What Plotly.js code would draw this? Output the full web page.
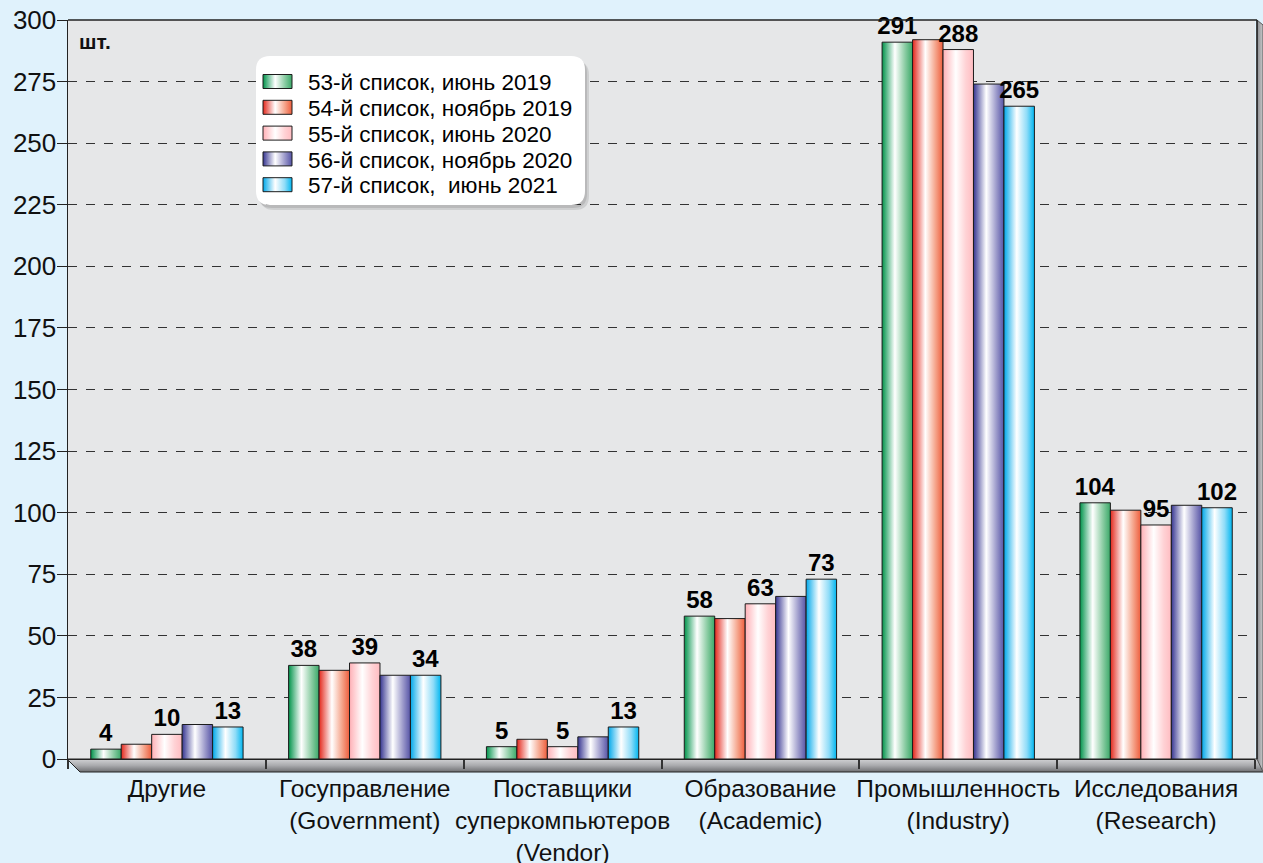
<!DOCTYPE html>
<html>
<head>
<meta charset="utf-8">
<script src="https://cdn.plot.ly/plotly-3.0.1.min.js"></script>
<style>
html,body{margin:0;padding:0;background:#E0F2FC;}
#chart{width:1263px;height:863px;}
</style>
</head>
<body>
<div id="chart"></div>
<script>
// ---- data ----
const categories = [
  'Другие',
  'Госуправление<br>(Government)',
  'Поставщики<br>суперкомпьютеров<br>(Vendor)',
  'Образование<br>(Academic)',
  'Промышленность<br>(Industry)',
  'Исследования<br>(Research)'
];
const seriesNames = [
  '53-й список, июнь 2019',
  '54-й список, ноябрь 2019',
  '55-й список, июнь 2020',
  '56-й список, ноябрь 2020',
  '57-й список,\u00a0 июнь 2021'
];
const list53 = [4, 38, 5, 58, 291, 104];
const list54 = [6, 36, 8, 57, 292, 101];
const list55 = [10, 39, 5, 63, 288, 95];
const list56 = [14, 34, 9, 66, 274, 103];
const list57 = [13, 34, 13, 73, 265, 102];
const showLabels = [true, false, true, false, true];
const yTicks = [0, 25, 50, 75, 100, 125, 150, 175, 200, 225, 250, 275, 300];
const unitLabel = 'шт.';

// ---- styles ----
const baseColors = ['#2aa862', '#ef5537', '#ffbcc0', '#4d4a9e', '#00b2ee'];
const gradStops = [
  [['0', '#00934a'], ['0.42', '#ffffff'], ['0.75', '#8ccda4'], ['1', '#3aa868']],
  [['0', '#e3281c'], ['0.42', '#ffffff'], ['0.75', '#f5a58c'], ['1', '#ee5d3c']],
  [['0', '#ffb0b6'], ['0.42', '#ffffff'], ['0.75', '#ffd2d5'], ['1', '#ffbcc1']],
  [['0', '#363591'], ['0.42', '#ffffff'], ['0.75', '#9d9bcb'], ['1', '#5553a6']],
  [['0', '#00a8ea'], ['0.42', '#ffffff'], ['0.75', '#8fdcf8'], ['1', '#00b6f0']]
];
const FONT = 'Liberation Sans, Arial, Helvetica, sans-serif';
const allSeries = [list53, list54, list55, list56, list57];

const data = allSeries.map((vals, i) => ({
  type: 'bar',
  name: seriesNames[i],
  x: categories,
  y: vals,
  text: showLabels[i] ? vals.map(String) : vals.map(() => ''),
  textposition: 'outside',
  constraintext: 'none',
  cliponaxis: false,
  textfont: {family: FONT, size: 24, color: '#000', weight: 'bold'},
  marker: {color: baseColors[i], line: {color: '#1c1c1c', width: 1}},
  hoverinfo: 'skip'
}));

// pixel helpers for decoration shapes (paper coords)
const L = 68, R = 8, T = 20, B = 104, W = 1263, H = 863;
const PW = W - L - R, PH = H - T - B;
const px = v => (v - L) / PW;
const py = v => (H - B - v) / PH;
function rrect(x0, y0, x1, y1, r) {
  const rx = r / PW, ry = r / PH;
  const a = px(x0), b = px(x1), top = py(y0), bot = py(y1);
  return `M${a + rx},${top} L${b - rx},${top} Q${b},${top} ${b},${top - ry} L${b},${bot + ry} Q${b},${bot} ${b - rx},${bot} L${a + rx},${bot} Q${a},${bot} ${a},${bot + ry} L${a},${top - ry} Q${a},${top} ${a + rx},${top} Z`;
}
function poly(pts) {
  return 'M' + pts.map(p => px(p[0]) + ',' + py(p[1])).join(' L') + ' Z';
}

const shapes = [
  {type: 'path', xref: 'paper', yref: 'paper', layer: 'below',
   path: poly([[67, 759], [1263, 759], [1263, 772], [80, 772]]),
   fillcolor: 'rgb(1, 2, 3)', line: {color: '#222', width: 1}},
  {type: 'path', xref: 'paper', yref: 'paper', layer: 'below',
   path: poly([[1257, 20], [1263, 25], [1263, 772], [1257, 759]]),
   fillcolor: 'rgb(4, 5, 6)', line: {color: '#555', width: 1}},
  {type: 'line', xref: 'paper', yref: 'paper', layer: 'above',
   x0: 0, x1: px(1257), y0: 1, y1: 1, line: {color: '#222', width: 1.5}},
  {type: 'line', xref: 'paper', yref: 'paper', layer: 'above',
   x0: px(1257), x1: px(1257), y0: 0, y1: 1, line: {color: '#222', width: 1.5}},
  {type: 'path', xref: 'paper', yref: 'paper', layer: 'above',
   path: rrect(260, 61, 589, 210, 14), fillcolor: 'rgba(0,0,0,0.10)', line: {width: 0}},
  {type: 'path', xref: 'paper', yref: 'paper', layer: 'above',
   path: rrect(258, 59, 587, 208, 14), fillcolor: 'rgba(0,0,0,0.10)', line: {width: 0}},
  {type: 'path', xref: 'paper', yref: 'paper', layer: 'above',
   path: rrect(256, 56, 585, 205, 14), fillcolor: '#ffffff', line: {width: 0}}
];

const layout = {
  width: W, height: H,
  margin: {l: L, r: R, t: T, b: B},
  paper_bgcolor: '#E0F2FC',
  plot_bgcolor: '#E6E7E8',
  font: {family: FONT, color: '#111'},
  barmode: 'group',
  bargap: 0.23,
  bargroupgap: 0,
  showlegend: true,
  legend: {
    x: px(258), y: py(64), xanchor: 'left', yanchor: 'top',
    bgcolor: 'rgba(0,0,0,0)', borderwidth: 0,
    font: {family: FONT, size: 22.5, color: '#000'},
    itemwidth: 40, tracegroupgap: 0, itemclick: false
  },
  xaxis: {
    type: 'category',
    tickson: 'boundaries',
    tickangle: 0,
    ticks: 'outside', ticklen: 9, tickwidth: 2, tickcolor: '#333',
    showline: true, linecolor: '#222', linewidth: 1,
    showgrid: false, zeroline: false,
    tickfont: {family: FONT, size: 24.5, color: '#111'},
    ticklabelstandoff: 8,
    fixedrange: true
  },
  yaxis: {
    range: [0, 300],
    tickvals: yTicks,
    ticktext: yTicks.map(String),
    ticks: 'outside', ticklen: 10, tickwidth: 1, tickcolor: '#222',
    showline: true, linecolor: '#222', linewidth: 1.5,
    showgrid: true, gridcolor: '#333', griddash: 'dash', gridwidth: 1,
    zeroline: false,
    tickfont: {family: FONT, size: 26, color: '#111'},
    ticklabelstandoff: -5,
    fixedrange: true
  },
  shapes: shapes,
  annotations: [{
    xref: 'paper', yref: 'paper', x: px(77), y: py(41), xanchor: 'left', yanchor: 'middle',
    text: '<b>' + unitLabel + '</b>', showarrow: false,
    font: {family: FONT, size: 21, color: '#111'}
  }]
};

function decorate(gd) {
  const ns = 'http://www.w3.org/2000/svg';
  const svg = gd.querySelector('svg.main-svg');
  let defs = svg.querySelector('defs');
  if (!defs) { defs = document.createElementNS(ns, 'defs'); svg.insertBefore(defs, svg.firstChild); }
  function addGrad(id, stops, vertical) {
    const lg = document.createElementNS(ns, 'linearGradient');
    lg.setAttribute('id', id);
    lg.setAttribute('x1', '0'); lg.setAttribute('y1', '0');
    lg.setAttribute('x2', vertical ? '0' : '1'); lg.setAttribute('y2', vertical ? '1' : '0');
    stops.forEach(s => {
      const st = document.createElementNS(ns, 'stop');
      st.setAttribute('offset', s[0]); st.setAttribute('stop-color', s[1]);
      lg.appendChild(st);
    });
    defs.appendChild(lg);
  }
  gradStops.forEach((s, i) => addGrad('bargrad' + i, s, false));
  addGrad('floorgrad', [['0', '#d2d3d5'], ['0.5', '#a9aaad'], ['1', '#6e6f72']], true);
  addGrad('wallgrad', [['0', '#8a8b8e'], ['1', '#c9cacc']], false);

  gd.querySelectorAll('.barlayer .trace.bars').forEach((tr, i) => {
    tr.querySelectorAll('path').forEach(p => { p.style.fill = 'url(#bargrad' + i + ')'; });
  });
  gd.querySelectorAll('path').forEach(p => {
    if (p.style.fill === 'rgb(1, 2, 3)') p.style.fill = 'url(#floorgrad)';
    if (p.style.fill === 'rgb(4, 5, 6)') p.style.fill = 'url(#wallgrad)';
  });
  const rowGap = 25.8;
  gd.querySelectorAll('.legend .traces').forEach((tr, i) => {
    const m = /translate\(([-\d.]+)[ ,]+([-\d.]+)\)/.exec(tr.getAttribute('transform') || '');
    const x0 = m ? parseFloat(m[1]) : 0;
    tr.setAttribute('transform', `translate(${x0},${17.5 + i * rowGap})`);
    const txt = tr.querySelector('text.legendtext');
    const tx = txt ? parseFloat(txt.getAttribute('x')) : 50;
    tr.querySelectorAll('.legendpoints path').forEach(p => {
      p.setAttribute('transform', 'translate(0,0)');
      p.setAttribute('d', `M${tx - 45},-7H${tx - 16}V7H${tx - 45}Z`);
      p.style.fill = 'url(#bargrad' + i + ')';
      p.style.stroke = '#1c1c1c';
      p.style.strokeWidth = '1px';
    });
  });
}

Plotly.newPlot('chart', data, layout, {displayModeBar: false, staticPlot: true}).then(decorate);
</script>
</body>
</html>
